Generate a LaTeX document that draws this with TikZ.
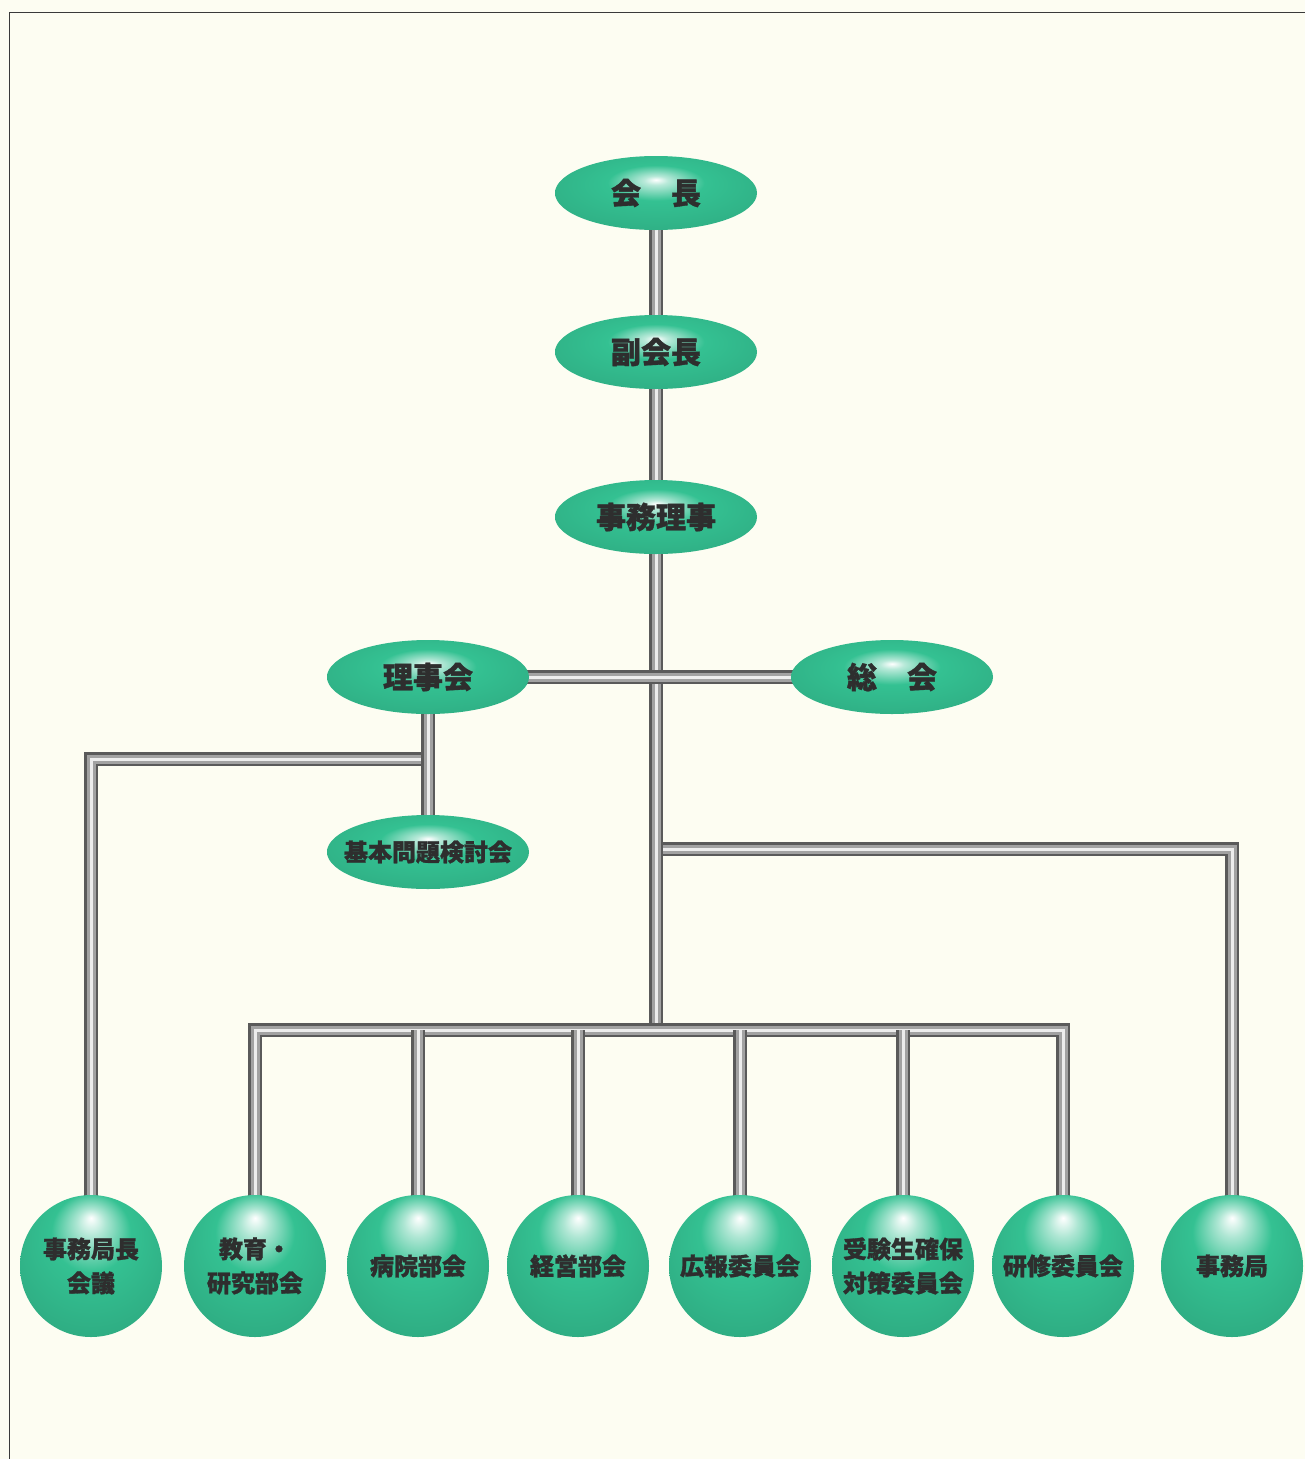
\documentclass[tikz,border=0pt]{standalone}
\usepackage{fontspec}
\usetikzlibrary{shapes.geometric}
\newfontfamily\jpfont{Noto Sans CJK JP}[BoldFeatures={FakeBold=1.2}]
\definecolor{org-creme}{HTML}{FDFDF2}
\definecolor{org-gruen}{HTML}{34C192}
\definecolor{org-rohr}{HTML}{5A5A5A}
\definecolor{org-rohr50}{HTML}{A2A2A2}
\definecolor{org-rohr15}{HTML}{EDEDED}
\definecolor{org-text}{HTML}{2E2E2E}
\definecolor{org-rand}{HTML}{3A3A3A}

% Glanzlicht oben mittig
\pgfdeclareradialshading{glanz-oval}{\pgfpoint{0bp}{9bp}}{color(0bp)=(white); color(3bp)=(org-gruen!35!white); color(12bp)=(org-gruen); color(32bp)=(org-gruen!90!black); color(50bp)=(org-gruen!78!black)}
\pgfdeclareradialshading{glanz-kugel}{\pgfpoint{0bp}{17bp}}{color(0bp)=(white); color(5bp)=(org-gruen!40!white); color(14bp)=(org-gruen); color(30bp)=(org-gruen!90!black); color(45bp)=(org-gruen!78!black)}

\pgfdeclarelayer{hintergrund}
\pgfdeclarelayer{rohre}
\pgfsetlayers{hintergrund,rohre,main}

\tikzset{
  rohr/.style={draw=org-rohr, line width=14pt, line join=miter,
    postaction={draw=org-rohr50, line width=9pt},
    postaction={draw=org-rohr15, line width=3pt}},
  oval/.style={ellipse, shade, shading=glanz-oval, minimum width=202pt, minimum height=74pt,
    inner xsep=-25pt, text=org-text, font=\jpfont\bfseries\fontsize{30}{32}\selectfont},
  kugel/.style={circle, shade, shading=glanz-kugel, minimum size=142pt, inner sep=0pt,
    align=center, text=org-text, font=\jpfont\bfseries\fontsize{24}{34}\selectfont}
}

\begin{document}
\begin{tikzpicture}[x=1pt,y=-1pt]
\useasboundingbox (0,0) rectangle (1305,1459);

\begin{pgfonlayer}{hintergrund}
  \fill[org-creme] (0,0) rectangle (1305,1459);
  \draw[org-rand, line width=1.8pt] (1305,12.5) -- (9.5,12.5) -- (9.5,1459);
\end{pgfonlayer}

% Leitung oben
\node[oval] (kaicho) at (656,193) {会　長};
\node[oval] (fuku) at (656,352) {副会長};
\node[oval] (jimuriji) at (656,517) {事務理事};
\node[oval] (rijikai) at (428,677) {理事会};
\node[oval] (sokai) at (892,677) {総　会};
\node[oval, font=\jpfont\bfseries\fontsize{24}{26}\selectfont] (kihon) at (428,852) {基本問題検討会};

% Kugeln unten
\foreach \name/\x/\text in {k1/91/{事務局長\\会議}, k2/255/{教育・\\研究部会}, k3/418/{病院部会},
    k4/578/{経営部会}, k5/740/{広報委員会}, k6/903/{受験生確保\\対策委員会},
    k7/1063/{研修委員会}, k8/1232/{事務局}} {
  \node[kugel] (\name) at (\x,1266) {\text};
}

\coordinate (bus) at (656,1030);
\coordinate (kn1) at (92,759);
\coordinate (kn2) at (1230,849);

\begin{pgfonlayer}{rohre}
  \draw[rohr] (k1.center) -- (k1.center |- kn1) -- (rijikai.center |- kn1);
  \draw[rohr] (rijikai.center) -- (kihon.center);
  \draw[rohr] (k8.center) -- (k8.center |- kn2) -- (jimuriji.center |- kn2);
  \draw[rohr] (kaicho.center) -- (fuku.center) -- (jimuriji.center) -- (bus);
  \draw[rohr] (rijikai.center) -- (sokai.center);
  \draw[rohr] (k2.center) -- (k2.center |- bus) -- (k7.center |- bus) -- (k7.center);
  \foreach \name in {k3,k4,k5,k6} {
    \draw[rohr] (\name.center |- bus) -- (\name.center);
  }
\end{pgfonlayer}
\end{tikzpicture}
\end{document}
